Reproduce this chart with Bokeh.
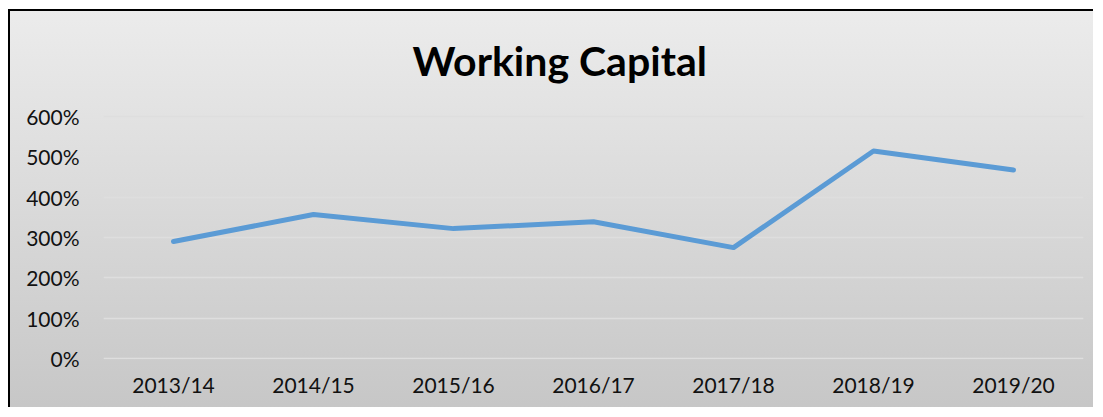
from bokeh.plotting import figure
from bokeh.models import FactorRange, Range1d, NumeralTickFormatter, FixedTicker
from bokeh.embed import file_html
from bokeh.resources import INLINE

years = ["2013/14", "2014/15", "2015/16", "2016/17", "2017/18", "2018/19", "2019/20"]
working_capital = [2.90, 3.57, 3.22, 3.39, 2.75, 5.14, 4.67]
y_ticks = [0, 1, 2, 3, 4, 5, 6]

p = figure(width=1093, height=407, x_range=FactorRange(*years, range_padding=0),
           y_range=Range1d(-0.02, 6.02), output_backend="svg", toolbar_location=None,
           min_border_left=103, min_border_right=10, min_border_bottom=48, min_border_top=115)

p.styles = {"background": "linear-gradient(#000000, #000000) 8px 9px / 100% 2px no-repeat, "
                          "linear-gradient(#000000, #000000) 8px 9px / 2px 100% no-repeat, "
                          "linear-gradient(#ececec, #c6c6c6) 8px 9px / 100% 100% no-repeat, #ffffff"}
p.background_fill_color = None
p.border_fill_color = None
p.outline_line_color = None

p.title.text = "Working Capital"
p.title.text_font = "Lato"
p.title.text_font_style = "bold"
p.title.text_font_size = "41px"
p.title.text_color = "black"
p.title.align = "left"
p.title.offset = 309
p.title.standoff = 61

p.line(x=years, y=working_capital, line_color="#5b9bd5", line_width=5, line_cap="round", line_join="round")

p.yaxis.ticker = FixedTicker(ticks=y_ticks)
p.yaxis.formatter = NumeralTickFormatter(format="0%")
for ax in (p.xaxis, p.yaxis):
    ax.axis_line_color = None
    ax.major_tick_line_color = None
    ax.minor_tick_line_color = None
    ax.major_label_text_font = "Lato"
    ax.major_label_text_font_size = "21px"
    ax.major_label_text_color = "#111111"
p.yaxis.major_label_standoff = 18
p.xaxis.major_label_standoff = 6
p.xgrid.grid_line_color = None
p.ygrid.grid_line_color = "#dedede"
p.ygrid.grid_line_width = 1.5

open("out.html", "w").write(file_html(p, INLINE))
